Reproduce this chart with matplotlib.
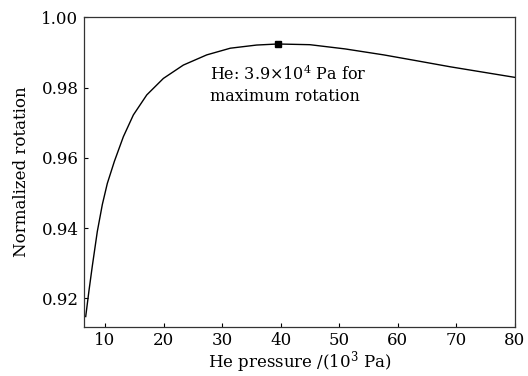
import matplotlib
matplotlib.use('Agg')
import matplotlib.pyplot as plt

# Normalized rotation vs He pressure
pressure = [6.7, 7.26, 7.83, 8.68, 9.54, 10.39, 11.6, 13.13, 14.84,
            17.13, 19.97, 23.38, 27.38, 31.4, 35.9, 39.5, 45.0, 51.0, 57.6,
            63.0, 69.0, 74.5, 80.0]
rotation = [0.9148, 0.9222, 0.9292, 0.9390, 0.9467, 0.9527, 0.9590,
            0.9660, 0.9722, 0.9779, 0.9826, 0.9864, 0.9893, 0.9912, 0.9921,
            0.9924, 0.9922, 0.9910, 0.9893, 0.9877, 0.9859, 0.9844, 0.9829]

peak_x = [39.5]
peak_y = [0.9924]

x_ticks = [10, 20, 30, 40, 50, 60, 70, 80]
y_ticks = [0.92, 0.94, 0.96, 0.98, 1.00]

plt.rcParams['font.family'] = ['DejaVu Serif']
plt.rcParams['mathtext.fontset'] = 'dejavuserif'

fig = plt.figure(figsize=(5.28, 3.76), dpi=100)
ax = fig.add_axes([0.159, 0.131, 0.816, 0.823])

ax.plot(pressure, rotation, color='black', lw=1.0)
ax.plot(peak_x, peak_y, 's', color='black', markersize=5)

ax.text(27.9, 0.9866, 'He: 3.9\u00d710$^{4}$ Pa for\nmaximum rotation',
        fontsize=11.5, va='top', ha='left', linespacing=1.3)

ax.set_xlim(6.4, 80)
ax.set_ylim(0.9119, 1.0)
ax.set_xticks(x_ticks)
ax.set_yticks(y_ticks)
ax.set_yticklabels(['%.2f' % v for v in y_ticks])

ax.tick_params(direction='in', length=3, width=0.8, labelsize=12, pad=4)
for side in ['top', 'right', 'left', 'bottom']:
    ax.spines[side].set_linewidth(0.9)
    ax.spines[side].set_color('#333333')

ax.set_xlabel('He pressure /(10$^{3}$ Pa)', fontsize=12, labelpad=0)
ax.set_ylabel('Normalized rotation', fontsize=12, labelpad=8)

fig.savefig('out.png', dpi=100)
